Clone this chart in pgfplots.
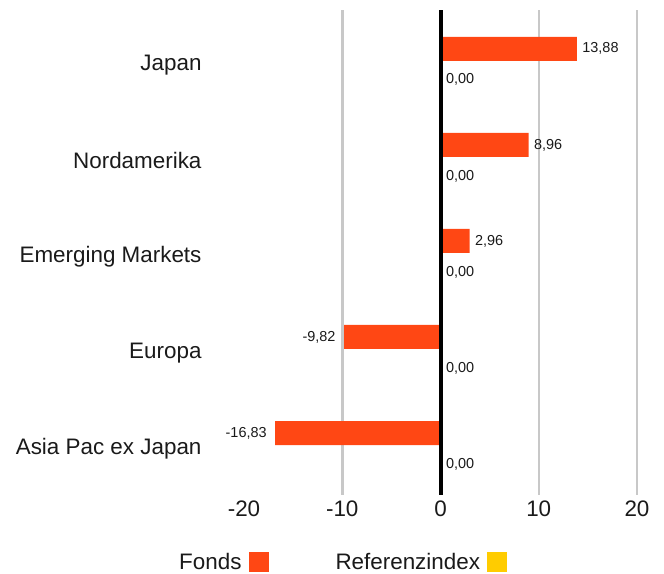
\documentclass[border=0pt]{standalone}
\usepackage{fontspec}
\setmainfont{Liberation Sans}
\usepackage{pgfplots}
\pgfplotsset{compat=1.18}
\definecolor{fonds}{RGB}{255,71,20}
\definecolor{refidx}{RGB}{255,204,0}
\definecolor{gridgrey}{RGB}{200,200,200}
\definecolor{txt}{RGB}{26,26,26}
\begin{document}
\begin{tikzpicture}
\useasboundingbox (0,0) rectangle (664bp,574bp);
\begin{axis}[
    at={(244bp,79bp)}, anchor=south west,
    scale only axis,
    width=393bp, height=485bp,
    xbar, bar width=24bp,
    xmin=-20, xmax=20,
    ymin=-0.51, ymax=4.54,
    xtick={-20,-10,0,10,20},
    ytick={0,1,2,3,4},
    yticklabels={Asia Pac ex Japan,Europa,Emerging Markets,Nordamerika,Japan},
    major tick length=0pt,
    axis line style={draw=none},
    extra x ticks={-10,10,20},
    extra x tick labels={},
    extra x tick style={grid=major, major grid style={gridgrey, line width=2.5bp}},
    /pgf/number format/assume math mode=true,
    /pgf/number format/use comma,
    xticklabel style={font=\fontsize{22.5}{26}\selectfont, text=txt, yshift=-2bp},
    yticklabel style={font=\fontsize{22.5}{26}\selectfont, text=txt, xshift=-39bp, yshift=-3bp},
    nodes near coords,
    nodes near coords style={font=\fontsize{14.5}{17}\selectfont, text=txt,
        /pgf/number format/fixed, /pgf/number format/fixed zerofill,
        /pgf/number format/precision=2, /pgf/number format/use comma},
    legend plot pos=right,
    legend columns=2,
    legend style={draw=none, at={(-0.178,-0.139)}, anchor=west,
        font=\fontsize{22.5}{26}\selectfont, text=txt,
        /tikz/every even column/.append style={column sep=65bp}},
    legend image code/.code={\path[fill=none, draw=none] (0bp,-10bp) rectangle (25bp,10bp);
        \fill[#1] (5bp,-10bp) rectangle (25bp,10bp);},
]
% Fonds, positive values
\addplot[fill=fonds, draw=none, bar shift=13bp,
    nodes near coords style={xshift=2bp}]
    coordinates {(2.96,2) (8.96,3) (13.88,4)};
% Referenzindex
\addplot[fill=refidx, draw=none, bar shift=-18bp,
    nodes near coords style={xshift=2bp}]
    coordinates {(0,0) (0,1) (0,2) (0,3) (0,4)};
% Fonds, negative values
\addplot[fill=fonds, draw=none, bar shift=13bp, forget plot,
    nodes near coords style={xshift=-5bp}]
    coordinates {(-16.83,0) (-9.82,1)};
\draw[black, line width=4bp] (axis cs:0,-0.51) -- (axis cs:0,4.54);
\legend{Fonds, Referenzindex}
\end{axis}
\end{tikzpicture}
\end{document}
